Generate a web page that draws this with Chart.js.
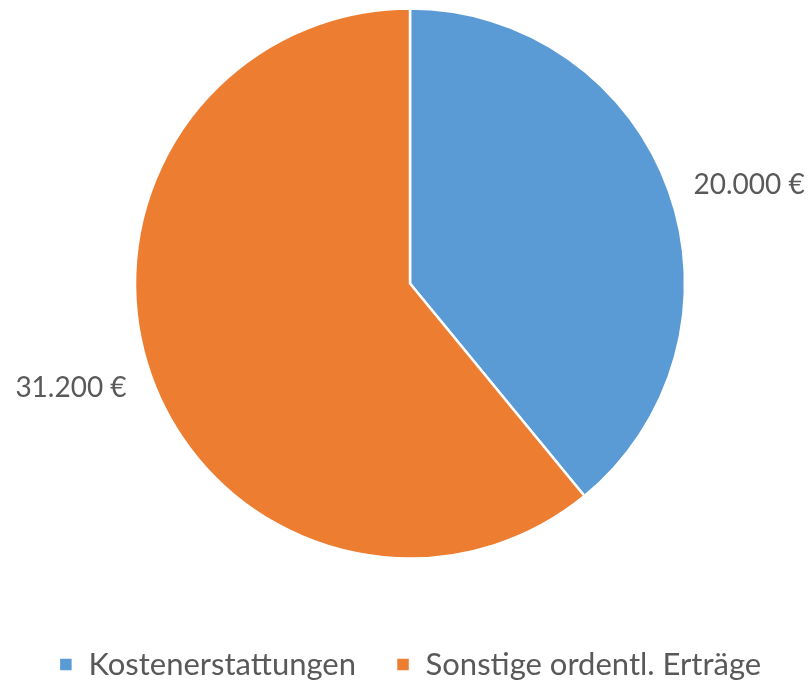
<!DOCTYPE html>
<html>
<head>
<meta charset="utf-8">
<script src="https://cdn.jsdelivr.net/npm/chart.js@4.4.0/dist/chart.umd.min.js"></script>
<style>
  html, body { margin: 0; padding: 0; background: #fff; }
  #wrap { width: 812px; height: 682px; }
</style>
</head>
<body>
<div id="wrap"><canvas id="c" width="812" height="682"></canvas></div>
<script>
const categories = ['Kostenerstattungen', 'Sonstige ordentl. Erträge'];
const values = [20000, 31200];
const colors = ['#5B9BD5', '#ED7D31'];

const fmt = v => v.toLocaleString('de-DE') + ' €';

// labels outside each slice, at the arc's mid angle
const outsideLabels = {
  id: 'outsideLabels',
  afterDatasetsDraw(chart) {
    const ctx = chart.ctx;
    const meta = chart.getDatasetMeta(0);
    ctx.save();
    ctx.font = '28px Lato, "Open Sans", sans-serif';
    ctx.fillStyle = '#595959';
    ctx.textBaseline = 'middle';
    meta.data.forEach((arc, i) => {
      const p = arc.getProps(['x', 'y', 'startAngle', 'endAngle', 'outerRadius'], true);
      const mid = (p.startAngle + p.endAngle) / 2;
      const r = p.outerRadius + 26;
      const x = p.x + Math.cos(mid) * r;
      const y = p.y + Math.sin(mid) * r;
      ctx.textAlign = Math.cos(mid) >= 0 ? 'left' : 'right';
      ctx.fillText(fmt(values[i]), x, y + 3);
    });
    ctx.restore();
  }
};

new Chart(document.getElementById('c'), {
  type: 'pie',
  data: {
    labels: categories,
    datasets: [{
      data: values,
      backgroundColor: colors,
      borderColor: '#ffffff',
      borderWidth: 2.5,
      hoverOffset: 0,
      radius: 275
    }]
  },
  options: {
    responsive: false,
    animation: false,
    layout: { padding: { top: 0, left: 8, right: 0, bottom: -8 } },
    plugins: {
      tooltip: { enabled: false },
      legend: {
        position: 'bottom',
        // empty title only used as a spacer between pie and legend
        title: { display: true, text: '', font: { size: 10, lineHeight: 1 }, padding: { top: 32, bottom: 0 } },
        labels: {
          boxWidth: 14,
          boxHeight: 14,
          padding: 40,
          color: '#595959',
          font: { size: 31, family: 'Lato, "Open Sans", sans-serif' }
        }
      }
    }
  },
  plugins: [outsideLabels]
});
</script>
</body>
</html>
